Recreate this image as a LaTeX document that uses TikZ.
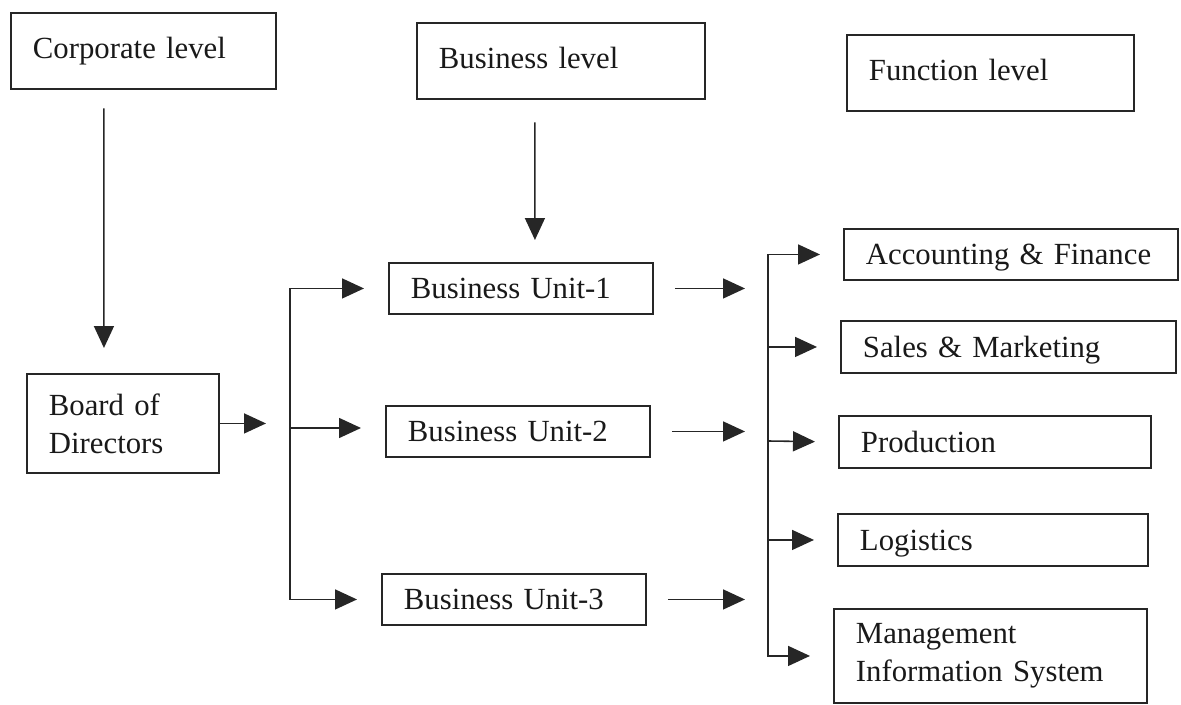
\documentclass[tikz,border=0pt]{standalone}
\usepackage{fontspec}
\setmainfont{Liberation Serif}
\usetikzlibrary{arrows.meta}

\begin{document}
\begin{tikzpicture}[x=0.02cm, y=-0.02cm,
  box/.style={draw=black!85, line width=1.1pt, anchor=north west, inner xsep=0.44cm, inner ysep=0pt,
    align=left, font=\fontsize{17.5}{21.5}\selectfont, text=black!90},
  lvl/.style={box, minimum height=1.53cm, text depth=0.15cm},
  unit/.style={box, minimum height=1.02cm, text depth=0pt},
  arr/.style={draw=black!85, line width=0.9pt, -{Triangle[length=0.44cm, width=0.4cm]}}]
\useasboundingbox (0,0) rectangle (1181,705);

\node [lvl, text width=4.42cm] (corp) at (10,12) {Corporate level};
\node [lvl, text width=4.88cm] (buslev) at (416,22) {Business level};
\node [lvl, text width=4.86cm] (funclev) at (846,34) {Function level};

\node [box, text width=2.96cm, minimum height=1.98cm] (board) at (26,373) {Board of\\Directors};

\node [unit, text width=4.40cm] (bu1) at (388,262) {Business Unit-1};
\node [unit, text width=4.40cm] (bu2) at (385,405) {Business Unit-2};
\node [unit, text width=4.40cm] (bu3) at (381,573) {Business Unit-3};

\node [unit, text width=5.80cm] (acc) at (843,228) {Accounting \& Finance};
\node [unit, text width=5.82cm, minimum height=1.04cm] (sales) at (840,320) {Sales \& Marketing};
\node [unit, text width=5.36cm, minimum height=1.04cm] (prod) at (838,415) {Production};
\node [unit, text width=5.32cm, minimum height=1.04cm] (logi) at (837,513) {Logistics};
\node [box, text width=5.38cm, minimum height=1.88cm] (mis) at (833,608) {Management\\Information System};

\coordinate (lbus) at (290,428);
\coordinate (rbus) at (768,441);

\draw [arr] ([xshift=-0.79cm, yshift=-0.36cm]corp.south) -- ([xshift=-0.38cm, yshift=0.5cm]board.north);
\draw [arr] ([xshift=-0.52cm, yshift=-0.44cm]buslev.south) -- ([xshift=0.28cm, yshift=0.44cm]bu1.north);

\draw [arr, shorten >=0.48cm] (board.east) -- (board.east -| lbus);
\draw [arr, shorten >=0.48cm] (lbus) |- (bu1.west);
\draw [arr, shorten >=0.48cm] (lbus) -- (lbus -| bu2.west);
\draw [arr, shorten >=0.48cm] (lbus) |- (bu3.west);

\draw [arr, shorten <=0.42cm, shorten >=0.46cm] (bu1.east) -- (bu1.east -| rbus);
\draw [arr, shorten <=0.42cm, shorten >=0.46cm] (bu2.east) -- (bu2.east -| rbus);
\draw [arr, shorten <=0.42cm, shorten >=0.46cm] (bu3.east) -- (bu3.east -| rbus);

\draw [arr, shorten >=0.46cm] (rbus) |- (acc.west);
\draw [arr, shorten >=0.46cm] (rbus) |- (sales.west);
\draw [arr, shorten >=0.46cm] (rbus) -- (prod.west);
\draw [arr, shorten >=0.46cm] (rbus) |- (logi.west);
\draw [arr, shorten >=0.46cm] (rbus) |- (mis.west);
\end{tikzpicture}
\end{document}
